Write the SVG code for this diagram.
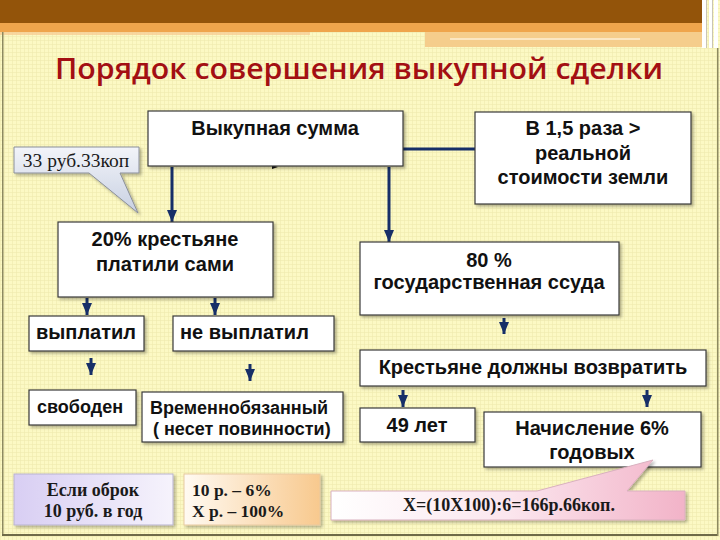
<svg xmlns="http://www.w3.org/2000/svg" width="720" height="540" viewBox="0 0 720 540">
<defs>
<pattern id="grid" width="4" height="4" patternUnits="userSpaceOnUse">
<rect width="4" height="4" fill="#fcf9c4"/>
<path d="M0,0.5H4M0.5,0V4" stroke="#efeaae" stroke-width="0.6"/>
</pattern>
<linearGradient id="gBlue" x1="0" y1="0" x2="0" y2="1">
<stop offset="0" stop-color="#f2f4f9"/><stop offset="1" stop-color="#c8d0e2"/>
</linearGradient>
<linearGradient id="gPink" x1="0" y1="0" x2="1" y2="0">
<stop offset="0" stop-color="#ffffff"/><stop offset="0.5" stop-color="#fbe6ee"/><stop offset="1" stop-color="#f2b3c8"/>
</linearGradient>
<linearGradient id="gLav" x1="0" y1="0" x2="1" y2="0">
<stop offset="0" stop-color="#d8cef3"/><stop offset="1" stop-color="#f6f3fc"/>
</linearGradient>
<linearGradient id="gPeach" x1="0" y1="0" x2="1" y2="0">
<stop offset="0" stop-color="#fffaf2"/><stop offset="1" stop-color="#f8c98e"/>
</linearGradient>
<filter id="sh" x="-10%" y="-10%" width="130%" height="140%">
<feDropShadow dx="2" dy="2" stdDeviation="1.5" flood-color="#000" flood-opacity="0.3"/>
</filter>
<marker id="ah" markerWidth="12" markerHeight="10" refX="12" refY="5" orient="auto" markerUnits="userSpaceOnUse" viewBox="0 0 12 10">
<path d="M0,0 L12,5 L0,10 Z" fill="#172f68"/>
</marker>
</defs>
<style>
.box{fill:#fff;stroke:#3a3a3a;stroke-width:1.2;filter:url(#sh)}
.t{font-family:"Liberation Sans",Arial,sans-serif;font-weight:bold;font-size:20px;fill:#111}
.sm{font-size:18px}
.c{text-anchor:middle}
.s{font-family:"Liberation Serif","Times New Roman",serif;fill:#1a1a1a}
.ln{stroke:#172f68;stroke-width:3;fill:none}
.ar{stroke:#172f68;stroke-width:3;fill:none;marker-end:url(#ah)}
</style>

<!-- background -->
<rect width="720" height="540" fill="url(#grid)"/>
<rect x="0" y="0" width="702" height="23" fill="#93540a"/>
<rect x="0" y="23" width="702" height="9" fill="#efa54c"/>
<rect x="425" y="32" width="277" height="15" fill="#f5cd8c"/>
<rect x="450" y="38" width="190" height="2" fill="#fbe6c2"/>
<rect x="0" y="32" width="310" height="3" fill="#f7c990" opacity="0.7"/>
<g fill="#ffffff">
<rect x="702" y="0" width="4" height="48"/>
<rect x="709" y="0" width="3" height="48"/>
<rect x="714" y="0" width="4" height="48"/>
</g>
<g fill="#c9c4b5">
<rect x="706" y="0" width="1" height="48"/>
<rect x="712" y="0" width="1" height="48"/>
</g>
<rect x="2" y="32" width="1.5" height="503" fill="#8d8a60"/>
<rect x="2" y="534" width="716" height="2" fill="#6f6b48"/>
<rect x="717" y="48" width="1.5" height="488" fill="#8d8a60"/>

<!-- title -->
<text x="359" y="79" text-anchor="middle" font-family="'Open Sans','DejaVu Sans',sans-serif" font-weight="600" font-size="28" fill="#a30f13" textLength="608" lengthAdjust="spacingAndGlyphs">Порядок совершения выкупной сделки</text>

<!-- connectors -->
<g id="connectors">
<line class="ln" x1="403" y1="149" x2="475" y2="149"/>
<line class="ar" x1="172" y1="167" x2="172" y2="222"/>
<line class="ar" x1="389" y1="167" x2="389" y2="242"/>
<line class="ar" x1="87" y1="298" x2="87" y2="315"/>
<line class="ar" x1="215" y1="298" x2="215" y2="315"/>
<line class="ar" x1="91" y1="358" x2="91" y2="375"/>
<line class="ar" x1="250" y1="364" x2="250" y2="381"/>
<line class="ar" x1="504" y1="318" x2="504" y2="334"/>
<line class="ar" x1="403" y1="390" x2="403" y2="407"/>
<line class="ar" x1="647" y1="390" x2="647" y2="407"/>
<path d="M272,165 L278,167 L272,169 Z" fill="#111"/>
</g>

<g id="n-sum">
<rect class="box" x="148" y="111" width="255" height="55"/>
<text class="t c" x="275" y="135">Выкупная сумма</text>
</g>

<g id="n-ratio">
<rect class="box" x="475" y="112" width="216" height="92"/>
<text class="t c" x="583" y="135">В 1,5 раза &gt;</text>
<text class="t c" x="583" y="160">реальной</text>
<text class="t c" x="583" y="184">стоимости земли</text>
</g>

<g id="n-callout33">
<path d="M14,147 H139 V173 H120 L138,213 L89,173 H14 Z" fill="url(#gBlue)" stroke="#8a8f9a" stroke-width="1" filter="url(#sh)"/>
<text class="s" x="76" y="167" text-anchor="middle" font-size="19.5">33 руб.33коп</text>
</g>

<g id="n-20">
<rect class="box" x="58" y="222" width="215" height="75"/>
<text class="t c" x="165" y="246">20% крестьяне</text>
<text class="t c" x="165" y="271">платили сами</text>
</g>

<g id="n-80">
<rect class="box" x="360" y="242" width="259" height="73"/>
<text class="t c" x="489" y="267">80 %</text>
<text class="t c" x="489" y="289">государственная ссуда</text>
</g>

<g id="n-paid">
<rect class="box" x="29" y="316" width="115" height="35"/>
<text class="t c" x="86" y="339">выплатил</text>
</g>

<g id="n-notpaid">
<rect class="box" x="173" y="316" width="161" height="35"/>
<text class="t" x="180" y="339">не выплатил</text>
</g>

<g id="n-free">
<rect class="box" x="29" y="390" width="107" height="35"/>
<text class="t sm" x="37" y="413">свободен</text>
</g>

<g id="n-temp">
<rect class="box" x="142" y="392" width="201" height="50"/>
<text class="t sm" x="150" y="414">Временнобязанный</text>
<text class="t sm" x="153" y="435">( несет повинности)</text>
</g>

<g id="n-return">
<rect class="box" x="360" y="350" width="346" height="36"/>
<text class="t c" x="533" y="374">Крестьяне должны возвратить</text>
</g>

<g id="n-49">
<rect class="box" x="360" y="408" width="115" height="34"/>
<text class="t c" x="417" y="432">49 лет</text>
</g>

<g id="n-6">
<rect class="box" x="484" y="412" width="217" height="55"/>
<text class="t c" x="592" y="435">Начисление 6%</text>
<text class="t c" x="592" y="459">годовых</text>
</g>

<g id="n-obrok">
<rect x="14" y="474" width="159" height="51" fill="url(#gLav)" stroke="#b9b3cf" stroke-width="1" filter="url(#sh)"/>
<text class="s" x="93" y="496" text-anchor="middle" font-weight="bold" font-size="18">Если оброк</text>
<text class="s" x="93" y="517" text-anchor="middle" font-weight="bold" font-size="18">10 руб. в год</text>
</g>

<g id="n-prop">
<rect x="184" y="474" width="136" height="51" fill="url(#gPeach)" stroke="#e8c9a0" stroke-width="1" filter="url(#sh)"/>
<text class="s" x="192" y="496" font-weight="bold" font-size="17.5">10 р. – 6%</text>
<text class="s" x="192" y="517" font-weight="bold" font-size="17.5">X р. – 100%</text>
</g>

<g id="n-calc">
<path d="M331,491 H537 L653,460 L627,491 H685 V520 H331 Z" fill="url(#gPink)" stroke="#d9b0bf" stroke-width="1" filter="url(#sh)"/>
<text class="s" x="509" y="511" text-anchor="middle" font-weight="bold" font-size="18">X=(10X100):6=166р.66коп.</text>
</g>
</svg>
